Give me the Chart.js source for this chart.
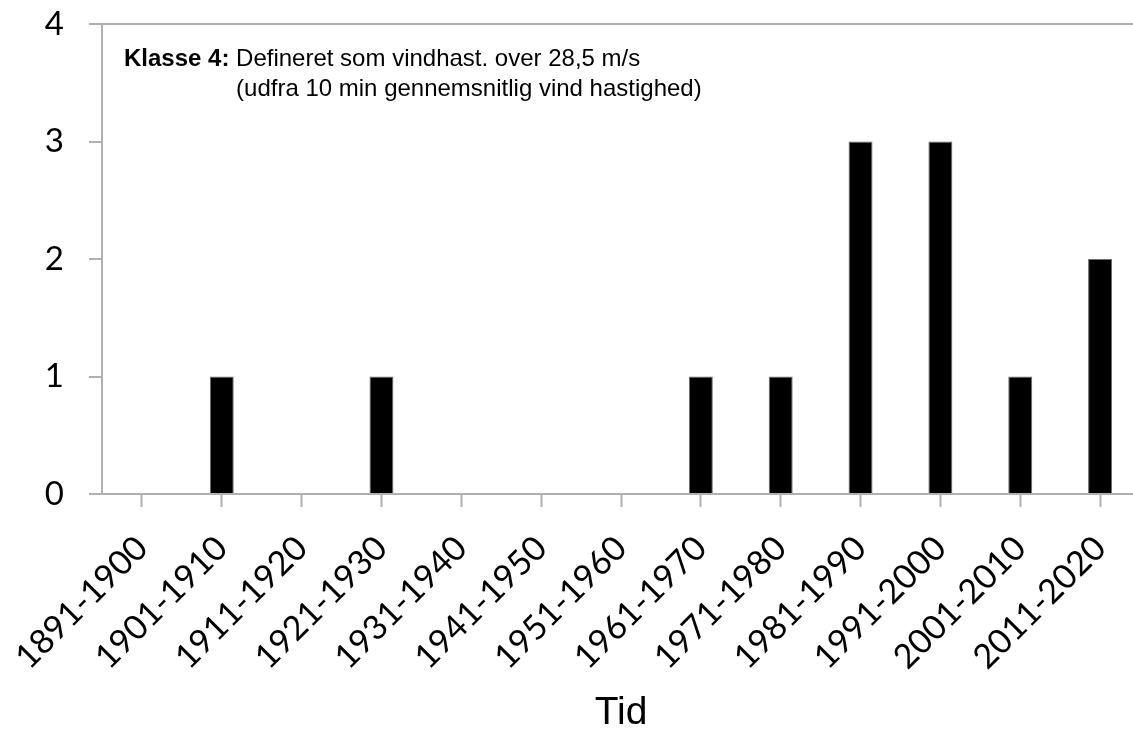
<!DOCTYPE html>
<html lang="da">
<head>
<meta charset="utf-8">
<title>Klasse 4 storme pr. årti</title>
<script src="https://cdn.jsdelivr.net/npm/chart.js@4"></script>
<style>
    html, body { margin: 0; padding: 0; background: #fff; overflow: hidden; }
    #wrap { position: relative; width: 1140px; height: 733px; }
</style>
</head>
<body>
<div id="wrap"><canvas id="stormChart"></canvas></div>
<script>
// Storms per decade, class 4
const decades = ['1891-1900', '1901-1910', '1911-1920', '1921-1930', '1931-1940', '1941-1950',
    '1951-1960', '1961-1970', '1971-1980', '1981-1990', '1991-2000', '2001-2010', '2011-2020'];
const stormCounts = [0, 1, 0, 1, 0, 0, 0, 1, 1, 3, 3, 1, 2];
const yTicks = [0, 1, 2, 3, 4];

const noteBold = 'Klasse 4:';
const noteLines = ['Defineret som vindhast. over 28,5 m/s', '(udfra 10 min gennemsnitlig vind hastighed)'];

const AXIS_GREY = '#b0b0b0';

/**
 * Writes the class definition note in the upper left of the plot.
 */
const notePlugin = {
    id: 'note',
    afterDraw(chart) {
        const { ctx, chartArea } = chart;
        const x = chartArea.left + 22;
        const y = chartArea.top + 35;
        ctx.save();
        ctx.fillStyle = '#000';
        ctx.textBaseline = 'middle';
        ctx.font = 'bold 24px "Liberation Sans", Arial, sans-serif';
        ctx.fillText(noteBold, x, y);
        const indent = x + ctx.measureText(noteBold + ' ').width;
        ctx.font = '24px "Liberation Sans", Arial, sans-serif';
        noteLines.forEach((line, i) => ctx.fillText(line, indent, y + i * 30));
        ctx.restore();
    }
};

new Chart(document.getElementById('stormChart'), {
    type: 'bar',
    data: {
        labels: decades,
        datasets: [{
            label: 'Klasse 4',
            data: stormCounts,
            backgroundColor: '#000',
            borderColor: '#6e6e6e',
            borderWidth: 1,
            barPercentage: 0.3,
            categoryPercentage: 1.0
        }]
    },
    options: {
        responsive: true,
        maintainAspectRatio: false,
        animation: false,
        layout: { padding: { top: 24, right: 0, bottom: 0, left: 0 } },
        plugins: {
            legend: { display: false },
            tooltip: { enabled: false }
        },
        scales: {
            x: {
                offset: true,
                grid: {
                    offset: false,
                    drawOnChartArea: false,
                    drawTicks: true,
                    tickLength: 13,
                    tickWidth: 2,
                    tickColor: AXIS_GREY
                },
                border: { display: true, color: AXIS_GREY, width: 2 },
                ticks: {
                    autoSkip: false,
                    minRotation: 45,
                    maxRotation: 45,
                    padding: 21,
                    color: '#000',
                    font: { family: 'Lato', size: 34 }
                },
                title: {
                    display: true,
                    text: 'Tid',
                    color: '#000',
                    font: { family: '"Liberation Sans", Arial, sans-serif', size: 39, lineHeight: 1.1 },
                    padding: { top: 0, bottom: -2 }
                },
                afterFit(scale) {
                    scale.height = 239;
                    // labels may hang past the plot edges; keep the plot box fixed
                    scale.paddingLeft = 0;
                    scale.paddingRight = 0;
                }
            },
            y: {
                min: yTicks[0],
                max: yTicks[yTicks.length - 1],
                afterBuildTicks(scale) { scale.ticks = yTicks.map(v => ({ value: v })); },
                grid: {
                    // only the top value gets a full-width line, closing the plot at the top
                    color: ctx => ctx.index === yTicks.length - 1 ? AXIS_GREY : 'transparent',
                    lineWidth: 2,
                    drawTicks: true,
                    tickLength: 13,
                    tickWidth: 2,
                    tickColor: AXIS_GREY
                },
                border: { display: true, color: AXIS_GREY, width: 2 },
                ticks: {
                    padding: 25,
                    color: '#000',
                    font: { family: 'Lato', size: 33 }
                },
                afterFit(scale) {
                    scale.width = 102;
                    scale.paddingTop = 0;
                    scale.paddingBottom = 0;
                }
            }
        }
    },
    plugins: [notePlugin]
});
</script>
</body>
</html>
